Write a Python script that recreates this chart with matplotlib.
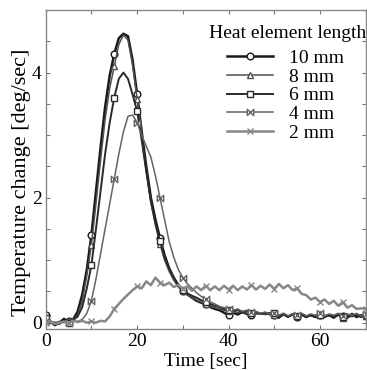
import matplotlib
matplotlib.use('Agg')
from matplotlib import pyplot as plt
from matplotlib.ticker import MultipleLocator

# Time axis [sec], one sample per second
time = list(range(0, 71))

temp_10mm = [0.12, 0.02, -0.04, 0.0, 0.06, 0.02, 0.05, 0.18, 0.45, 0.85,
             1.4, 2.1, 2.8, 3.45, 3.95, 4.3, 4.55, 4.62, 4.58, 4.2,
             3.65, 3.05, 2.5, 2.0, 1.65, 1.35, 1.08, 0.87, 0.72, 0.6,
             0.5, 0.45, 0.4, 0.35, 0.32, 0.3, 0.25, 0.22, 0.2, 0.16,
             0.12, 0.16, 0.13, 0.17, 0.14, 0.12, 0.15, 0.15, 0.14, 0.15,
             0.12, 0.08, 0.14, 0.1, 0.13, 0.09, 0.13, 0.1, 0.12, 0.09,
             0.13, 0.1, 0.12, 0.08, 0.13, 0.1, 0.08, 0.14, 0.09, 0.12, 0.1]
temp_8mm = [0.05, 0.0, 0.0, 0.02, 0.0, 0.03, 0.05, 0.12, 0.35, 0.75,
            1.25, 1.9, 2.6, 3.25, 3.75, 4.1, 4.45, 4.6, 4.52, 4.12,
            3.58, 2.98, 2.42, 1.92, 1.56, 1.26, 1.0, 0.82, 0.68, 0.57,
            0.5, 0.45, 0.4, 0.36, 0.33, 0.3, 0.27, 0.24, 0.22, 0.2,
            0.18, 0.17, 0.16, 0.18, 0.15, 0.16, 0.14, 0.16, 0.13, 0.15,
            0.12, 0.1, 0.13, 0.09, 0.13, 0.1, 0.12, 0.08, 0.13, 0.1,
            0.12, 0.09, 0.13, 0.1, 0.12, 0.08, 0.13, 0.1, 0.12, 0.09, 0.11]
temp_6mm = [0.08, 0.02, 0.0, -0.02, 0.03, 0.0, 0.04, 0.1, 0.25, 0.55,
            0.92, 1.5, 2.1, 2.7, 3.2, 3.6, 3.9, 4.0, 3.9, 3.65,
            3.38, 2.92, 2.42, 1.95, 1.6, 1.3, 1.05, 0.87, 0.72, 0.6,
            0.52, 0.47, 0.43, 0.4, 0.36, 0.33, 0.3, 0.27, 0.25, 0.22,
            0.2, 0.18, 0.2, 0.17, 0.19, 0.16, 0.17, 0.14, 0.16, 0.13,
            0.15, 0.1, 0.13, 0.09, 0.14, 0.1, 0.13, 0.09, 0.12, 0.1,
            0.13, 0.09, 0.12, 0.1, 0.13, 0.09, 0.12, 0.1, 0.13, 0.09, 0.12]
temp_4mm = [0.03, 0.0, -0.03, 0.0, 0.02, 0.0, 0.03, 0.02, 0.05, 0.15,
            0.35, 0.7, 1.1, 1.5, 1.9, 2.3, 2.7, 3.05, 3.3, 3.32,
            3.2, 3.0, 2.82, 2.65, 2.35, 2.0, 1.65, 1.3, 1.05, 0.85,
            0.72, 0.62, 0.55, 0.48, 0.42, 0.38, 0.33, 0.3, 0.26, 0.24,
            0.22, 0.2, 0.22, 0.18, 0.2, 0.17, 0.18, 0.15, 0.17, 0.14,
            0.16, 0.12, 0.15, 0.11, 0.14, 0.12, 0.15, 0.11, 0.14, 0.12,
            0.15, 0.11, 0.14, 0.12, 0.15, 0.11, 0.14, 0.12, 0.15, 0.11, 0.14]
temp_2mm = [0.0, 0.02, -0.02, 0.0, 0.02, 0.0, 0.03, 0.01, 0.03, 0.0,
            0.02, 0.0, 0.03, 0.02, 0.1, 0.22, 0.3, 0.38, 0.45, 0.52,
            0.58, 0.55, 0.66, 0.6, 0.72, 0.64, 0.6, 0.64, 0.57, 0.6,
            0.54, 0.58, 0.51, 0.58, 0.52, 0.59, 0.52, 0.58, 0.52, 0.59,
            0.53, 0.59, 0.52, 0.58, 0.53, 0.6, 0.53, 0.59, 0.54, 0.61,
            0.54, 0.62, 0.55, 0.6, 0.52, 0.55, 0.46, 0.44, 0.37, 0.4,
            0.33, 0.37, 0.3, 0.35, 0.27, 0.33, 0.24, 0.28, 0.22, 0.23, 0.22]

labels = ["10 mm", "8 mm", "6 mm", "4 mm", "2 mm"]

# bowtie between two vertical bars
BOWTIE = [(-1, -1), (-1, 1), (1, -1), (1, 1), (-1, -1)]

STYLES = [
    dict(color="#1a1a1a", lw=1.8, marker="o", ms=4.8),
    dict(color="#505050", lw=1.1, marker="^", ms=4.4),
    dict(color="#2a2a2a", lw=1.4, marker="s", ms=4.0),
    dict(color="#646464", lw=1.1, marker=BOWTIE, ms=4.6),
    dict(color="#888888", lw=1.8, marker="x", ms=4.0),
]

plt.rcParams['font.family'] = ['Liberation Serif', 'DejaVu Serif']
plt.rcParams['font.size'] = 14

fig = plt.figure(figsize=(3.67, 3.70), dpi=100)
ax = fig.add_axes([0.1245, 0.111, 0.872, 0.862])

series = [temp_10mm, temp_8mm, temp_6mm, temp_4mm, temp_2mm]
for values, label, st in zip(series, labels, STYLES):
    ax.plot(time, values, label=label, color=st["color"], lw=st["lw"],
            marker=st["marker"], ms=st["ms"], markevery=5,
            mfc="white", mec=st["color"], mew=1.0)

ax.set_xlim(0, 70)
ax.set_ylim(-0.1, 5.0)
ax.xaxis.set_major_locator(MultipleLocator(20))
ax.xaxis.set_minor_locator(MultipleLocator(10))
ax.yaxis.set_major_locator(MultipleLocator(2))
ax.yaxis.set_minor_locator(MultipleLocator(0.5))
ax.tick_params(which="both", direction="in", top=True, right=True,
               color="#777777", length=3, width=0.8, pad=3)
for sp in ax.spines.values():
    sp.set_color("#888888")
    sp.set_linewidth(1.0)

ax.set_xlabel("Time [sec]", labelpad=2)
ax.set_ylabel("Temperature change [deg/sec]", fontsize=16)
ax.yaxis.set_label_coords(-0.045, 0.46)

# legend title drawn separately so that its gap to the rows can be set
ax.text(0.757, 0.926, "Heat element length", transform=ax.transAxes,
        ha="center", va="center", fontsize=14)
ax.legend(loc="upper left", bbox_to_anchor=(0.565, 0.877),
          borderaxespad=0, borderpad=0, frameon=False,
          handlelength=2.4, handletextpad=0.8,
          labelspacing=0.06, fontsize=14)

fig.savefig("out.png", dpi=100)
